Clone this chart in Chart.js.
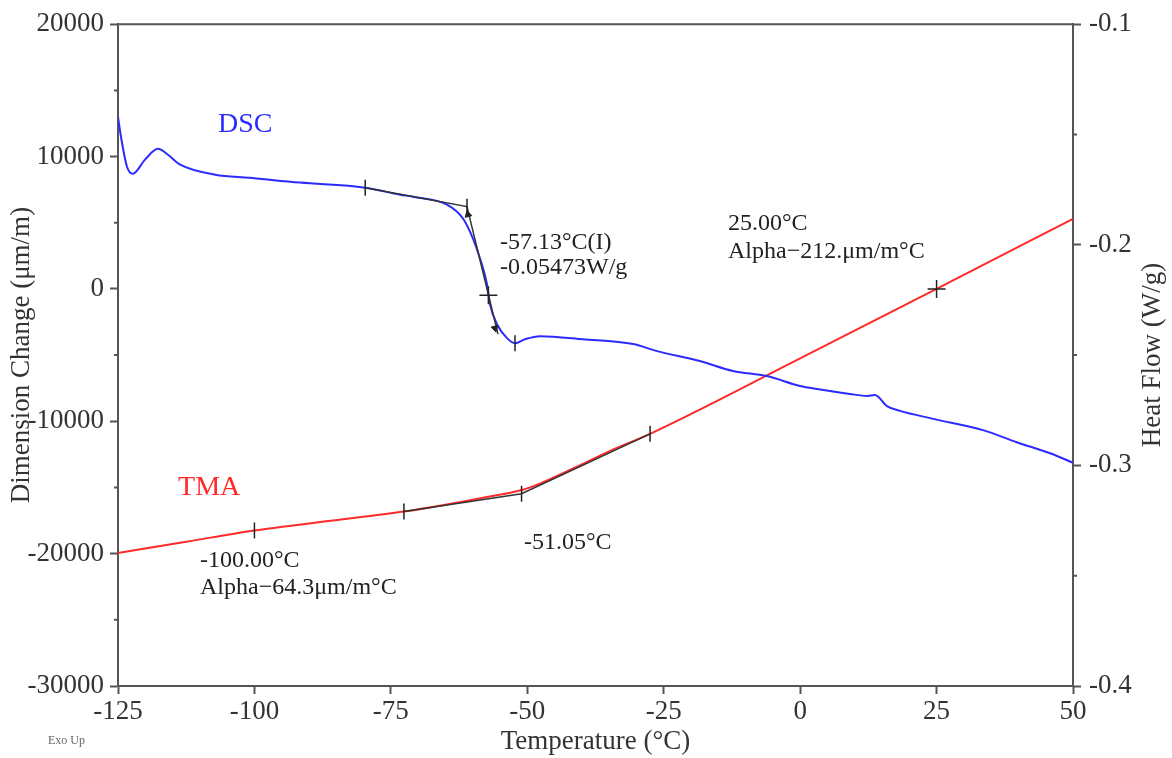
<!DOCTYPE html>
<html>
<head>
<meta charset="utf-8">
<script src="https://cdn.jsdelivr.net/npm/chart.js@4.4.0/dist/chart.umd.min.js"></script>
<style>
  html, body { margin: 0; padding: 0; background: #fff; }
</style>
</head>
<body>
<canvas id="grafico" width="1172" height="758"></canvas>
<script>
/* ====== dados ====== */
// curva DSC (eixo direito, W/g)
const dscTemp = [-125, -124.45, -123.35, -122.3, -120.05, -117.7, -115.84, -113.6, -107.2, -100.8, -91.7, -79.7, -73.3, -70.94, -64.71, -61.78, -59.95, -58.66, -57.38, -56.83, -55.55, -53.72, -52.25, -50.42, -47.67, -39.8, -30.6, -26.2, -18.4, -12.3, -6.1, 0, 3.1, 9.1, 12.3, 13.7, 15.9, 18.3, 24.4, 33.5, 39.7, 45.8, 50];
const dscHeat = [-0.142, -0.1511, -0.1646, -0.1678, -0.1614, -0.1565, -0.1592, -0.1637, -0.1682, -0.1696, -0.1718, -0.1741, -0.1773, -0.1782, -0.1818, -0.1881, -0.1972, -0.2062, -0.2179, -0.2270, -0.2360, -0.2423, -0.2446, -0.2428, -0.2414, -0.2428, -0.2450, -0.2482, -0.2527, -0.2572, -0.2595, -0.2640, -0.2654, -0.2676, -0.2685, -0.2681, -0.2731, -0.2753, -0.2789, -0.2840, -0.2895, -0.2945, -0.2988];

// curva TMA (eixo esquerdo, µm/m)
const tmaTemp = [-125, -112.5, -100, -86, -72.6, -65, -58.1, -50.8, -47.7, -41.3, -34.8, -27.5, 0, 25, 50];
const tmaDim = [-19950, -19100, -18250, -17520, -16820, -16300, -15770, -15170, -14710, -13510, -12230, -10950, -5250, 0, 5300];

// tangentes (linhas pretas)
const dscTanTemp = [-79.7, -61.05, -55.37];
const dscTanHeat = [-0.1741, -0.1827, -0.2405];
const tmaTanTemp = [-72.6, -51.05, -27.5];
const tmaTanDim = [-16820, -15470, -10950];

// marcas
const dscTickTemp = [-79.7, -61.05, -52.25];
const dscTickHeat = [-0.1741, -0.1827, -0.2446];
const tmaTickTemp = [-100, -72.6, -51.05, -27.5];
const tmaTickDim = [-18250, -16820, -15470, -10950];
const dscCross = { t: -57.13, v: -0.2229 };
const tmaCross = { t: 25, v: 0 };
const arrowTemp = [-60.86, -55.92];
const arrowHeat = [-0.1863, -0.2378];

// eixos
const tempTicks = [-125, 50, 25];
const dimTicks = [-30000, 20000, 10000];
const heatTicks = [-0.4, -0.1, 0.1];

// textos
const notas = [
  { txt: 'DSC', t: -106.67, v: -0.1456, eixo: 'y1', cor: '#2b2bff', tam: 28 },
  { txt: 'TMA', t: -114.0, v: -15015, eixo: 'y', cor: '#ff2a2a', tam: 28 },
  { txt: '-57.13°C(I)', t: -55.0, v: -0.1990, eixo: 'y1' },
  { txt: '-0.05473W/g', t: -55.0, v: -0.2102, eixo: 'y1' },
  { txt: '25.00°C', t: -13.22, v: -0.1904, eixo: 'y1' },
  { txt: 'Alpha−212.μm/m°C', t: -13.22, v: -0.2030, eixo: 'y1' },
  { txt: '-100.00°C', t: -109.97, v: -20512, eixo: 'y' },
  { txt: 'Alpha−64.3μm/m°C', t: -109.97, v: -22545, eixo: 'y' },
  { txt: '-51.05°C', t: -50.6, v: -19157, eixo: 'y' }
];

const pares = (xs, ys) => xs.map((x, i) => ({ x: x, y: ys[i] }));
const fonte = 'Liberation Serif, Times New Roman, serif';
const cinza = '#555';

/* ====== plugin: moldura, ticks menores, textos ====== */
const extras = {
  id: 'extras',
  afterDraw(chart) {
    const c = chart.ctx;
    const a = chart.chartArea;
    const sx = chart.scales.x, sy = chart.scales.y, sy1 = chart.scales.y1;
    c.save();
    // linha de cima
    c.strokeStyle = cinza;
    c.lineWidth = 2;
    c.beginPath();
    c.moveTo(a.left - 1, a.top);
    c.lineTo(a.right + 1, a.top);
    c.stroke();
    // ticks menores
    c.beginPath();
    for (let v = dimTicks[0] + dimTicks[2] / 2; v < dimTicks[1]; v += dimTicks[2]) {
      const py = sy.getPixelForValue(v);
      c.moveTo(a.left, py); c.lineTo(a.left - 4, py);
    }
    for (let v = heatTicks[0] + heatTicks[2] / 2; v < heatTicks[1]; v += heatTicks[2]) {
      const py = sy1.getPixelForValue(v);
      c.moveTo(a.right, py); c.lineTo(a.right + 4, py);
    }
    c.stroke();
    // notas
    c.textBaseline = 'middle';
    c.textAlign = 'left';
    notas.forEach(n => {
      c.font = (n.tam || 24) + 'px ' + fonte;
      c.fillStyle = n.cor || '#222';
      const s = n.eixo === 'y' ? sy : sy1;
      c.fillText(n.txt, sx.getPixelForValue(n.t), s.getPixelForValue(n.v));
    });
    // titulos dos eixos
    c.fillStyle = '#333';
    c.font = '27px ' + fonte;
    c.textAlign = 'center';
    c.fillText('Temperature (°C)', (a.left + a.right) / 2, 742);
    const cy = (a.top + a.bottom) / 2;
    c.save();
    c.translate(22, cy); c.rotate(-Math.PI / 2);
    c.fillText('Dimension Change (μm/m)', 0, 0);
    c.restore();
    c.save();
    c.translate(1153, cy); c.rotate(-Math.PI / 2);
    c.fillText('Heat Flow (W/g)', 0, 0);
    c.restore();
    c.font = '12px ' + fonte;
    c.fillStyle = '#666';
    c.textAlign = 'left';
    c.fillText('Exo Up', 48, 741);
    c.restore();
  }
};

const eixoBase = (largura, pos) => ({
  border: { color: cinza, width: 2 },
  grid: { drawOnChartArea: false, tickLength: 8, tickColor: cinza, tickWidth: 2 },
  afterFit: s => { if (pos === 'h') s.height = largura; else s.width = largura; }
});

const ctx = document.getElementById('grafico');
new Chart(ctx, {
  type: 'scatter',
  data: {
    datasets: [
      { data: pares(dscTemp, dscHeat), yAxisID: 'y1', showLine: true, borderColor: '#2b2bff', borderWidth: 2, pointRadius: 0, cubicInterpolationMode: 'monotone', order: 3 },
      { data: pares(tmaTemp, tmaDim), yAxisID: 'y', showLine: true, borderColor: '#ff2a2a', borderWidth: 2, pointRadius: 0, cubicInterpolationMode: 'monotone', order: 3 },
      { data: pares(dscTanTemp, dscTanHeat), yAxisID: 'y1', showLine: true, borderColor: '#333', borderWidth: 1.5, pointRadius: 0, order: 1 },
      { data: pares(tmaTanTemp, tmaTanDim), yAxisID: 'y', showLine: true, borderColor: '#333', borderWidth: 1.5, pointRadius: 0, order: 1 },
      { data: pares(dscTickTemp, dscTickHeat), yAxisID: 'y1', pointStyle: 'line', rotation: 90, pointRadius: 8, pointBorderColor: '#222', pointBorderWidth: 1.5, order: 0 },
      { data: pares(tmaTickTemp, tmaTickDim), yAxisID: 'y', pointStyle: 'line', rotation: 90, pointRadius: 8, pointBorderColor: '#222', pointBorderWidth: 1.5, order: 0 },
      { data: [{ x: dscCross.t, y: dscCross.v }], yAxisID: 'y1', pointStyle: 'cross', pointRadius: 9, pointBorderColor: '#222', pointBorderWidth: 1.5, order: 0 },
      { data: [{ x: tmaCross.t, y: tmaCross.v }], yAxisID: 'y', pointStyle: 'cross', pointRadius: 9, pointBorderColor: '#222', pointBorderWidth: 1.5, order: 0 },
      { data: pares(arrowTemp, arrowHeat), yAxisID: 'y1', pointStyle: 'triangle', rotation: [-14, 166], pointRadius: 4, pointBackgroundColor: '#222', pointBorderColor: '#222', pointBorderWidth: 1, order: 0 }
    ]
  },
  options: {
    responsive: false,
    animation: false,
    layout: { padding: { top: 22, left: 0, right: 0, bottom: 0 } },
    plugins: { legend: { display: false }, tooltip: { enabled: false } },
    scales: {
      x: Object.assign(eixoBase(72, 'h'), {
        type: 'linear', position: 'bottom', min: tempTicks[0], max: tempTicks[1],
        ticks: { stepSize: tempTicks[2], font: { family: fonte, size: 27 }, color: '#333', padding: 2, maxRotation: 0, autoSkip: false }
      }),
      y: Object.assign(eixoBase(118, 'v'), {
        type: 'linear', position: 'left', min: dimTicks[0], max: dimTicks[1],
        ticks: { stepSize: dimTicks[2], font: { family: fonte, size: 27 }, color: '#333', padding: 6, callback: v => String(v) }
      }),
      y1: Object.assign(eixoBase(99, 'v'), {
        type: 'linear', position: 'right', min: heatTicks[0], max: heatTicks[1],
        ticks: { stepSize: heatTicks[2], font: { family: fonte, size: 27 }, color: '#333', padding: 8, callback: v => v.toFixed(1) }
      })
    }
  },
  plugins: [extras]
});
/* FIM ====================================== */
</script>
</body>
</html>
